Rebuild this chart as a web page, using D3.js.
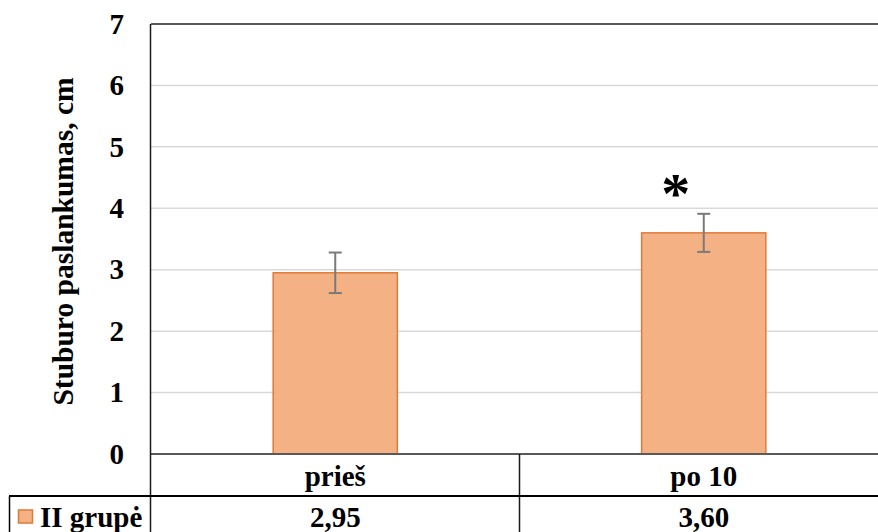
<!DOCTYPE html>
<html>
<head>
<meta charset="utf-8">
<script src="https://cdn.jsdelivr.net/npm/d3@7"></script>
<style>
  html, body { margin: 0; padding: 0; background: #fff; }
  text { font-family: "Liberation Serif", "Times New Roman", serif; font-weight: bold; fill: #000; }
</style>
</head>
<body>
<svg id="chart" width="878" height="532"></svg>
<script>
const categories = ["prieš", "po 10"];
const values = [2.95, 3.60];
const valueLabels = ["2,95", "3,60"];
const errors = [0.33, 0.31];
const yTicks = [0, 1, 2, 3, 4, 5, 6, 7];
const seriesName = "II grupė";
const yTitle = "Stuburo paslankumas, cm";
const significant = [false, true];

const svg = d3.select("#chart");
const plotLeft = 151, plotRight = 888, plotTop = 24, plotBottom = 454;
const tableRow = 496, tableBottom = 532;

const x = d3.scaleBand().domain(categories).range([plotLeft, plotRight]).paddingInner(0).paddingOuter(0);
const y = d3.scaleLinear().domain([0, 7]).range([plotBottom, plotTop]);

// gridlines
svg.append("g").selectAll("line").data(yTicks.filter(t => t > 0 && t < 7)).join("line")
  .attr("x1", plotLeft).attr("x2", 878).attr("y1", d => y(d)).attr("y2", d => y(d))
  .attr("stroke", "#d9d9d9").attr("stroke-width", 1.5);

// top border
svg.append("line").attr("x1", plotLeft).attr("x2", 878).attr("y1", y(7)).attr("y2", y(7))
  .attr("stroke", "#595959").attr("stroke-width", 2);

// bars
const barW = x.bandwidth() * 0.337;
svg.append("g").selectAll("rect").data(categories).join("rect")
  .attr("x", (d) => x(d) + x.bandwidth() / 2 - barW / 2)
  .attr("y", (d, i) => y(values[i]))
  .attr("width", barW)
  .attr("height", (d, i) => y(0) - y(values[i]))
  .attr("fill", "#F4B183").attr("stroke", "#E07A36").attr("stroke-width", 1.5);

// error bars
const eb = svg.append("g").attr("stroke", "#7a7a7a").attr("stroke-width", 2);
categories.forEach((c, i) => {
  const cx = x(c) + x.bandwidth() / 2;
  const y1 = y(values[i] + errors[i]), y2 = y(values[i] - errors[i]);
  eb.append("line").attr("x1", cx).attr("x2", cx).attr("y1", y1).attr("y2", y2);
  eb.append("line").attr("x1", cx - 6.5).attr("x2", cx + 6.5).attr("y1", y1).attr("y2", y1);
  eb.append("line").attr("x1", cx - 6.5).attr("x2", cx + 6.5).attr("y1", y2).attr("y2", y2);
});

// significance asterisk
categories.forEach((c, i) => {
  if (!significant[i]) return;
  svg.append("text")
    .attr("x", x(c) + x.bandwidth() / 2 - 28)
    .attr("y", y(values[i] + errors[i]) - 1)
    .attr("text-anchor", "middle")
    .attr("font-size", 58)
    .text("*");
});

// axis line at 0
svg.append("line").attr("x1", plotLeft).attr("x2", 878).attr("y1", y(0)).attr("y2", y(0))
  .attr("stroke", "#595959").attr("stroke-width", 2);

// y tick labels via axis
const yAxis = d3.axisLeft(y).tickValues(yTicks).tickSize(0).tickPadding(0).tickFormat(d3.format("d"));
const ya = svg.append("g").attr("transform", `translate(${plotLeft - 27},0)`).call(yAxis);
ya.select(".domain").remove();
ya.selectAll("text").attr("font-size", 29).attr("font-family", "Liberation Serif").attr("font-weight", "bold").attr("fill", "#000");

// y title
svg.append("text")
  .attr("transform", `translate(73,${(78 + 405) / 2}) rotate(-90)`)
  .attr("text-anchor", "middle")
  .attr("font-size", 29.5)
  .text(yTitle);

// left plot line (extends through table)
svg.append("line").attr("x1", plotLeft - 0.5).attr("x2", plotLeft - 0.5).attr("y1", plotTop).attr("y2", tableBottom)
  .attr("stroke", "#1a1a1a").attr("stroke-width", 1.5);

// category divider
categories.slice(1).forEach(c => {
  svg.append("line").attr("x1", x(c)).attr("x2", x(c)).attr("y1", plotBottom).attr("y2", tableBottom)
    .attr("stroke", "#1a1a1a").attr("stroke-width", 1.5);
});

// table row line
svg.append("line").attr("x1", 9).attr("x2", 878).attr("y1", tableRow).attr("y2", tableRow)
  .attr("stroke", "#000").attr("stroke-width", 2);
svg.append("line").attr("x1", 9.5).attr("x2", 9.5).attr("y1", tableRow).attr("y2", tableBottom)
  .attr("stroke", "#000").attr("stroke-width", 1.5);

// category labels
svg.append("g").selectAll("text").data(categories).join("text")
  .attr("x", d => x(d) + x.bandwidth() / 2).attr("y", 486)
  .attr("text-anchor", "middle").attr("font-size", 29).text(d => d);

// value labels
svg.append("g").selectAll("text").data(valueLabels).join("text")
  .attr("x", (d, i) => x(categories[i]) + x.bandwidth() / 2).attr("y", 527)
  .attr("text-anchor", "middle").attr("font-size", 29).text(d => d);

// legend key
svg.append("rect").attr("x", 18.5).attr("y", 510).attr("width", 14).attr("height", 13)
  .attr("fill", "#F4B183").attr("stroke", "#E07A36").attr("stroke-width", 1.5);
svg.append("text").attr("x", 40).attr("y", 527).attr("font-size", 29).text(seriesName);
</script>
</body>
</html>
